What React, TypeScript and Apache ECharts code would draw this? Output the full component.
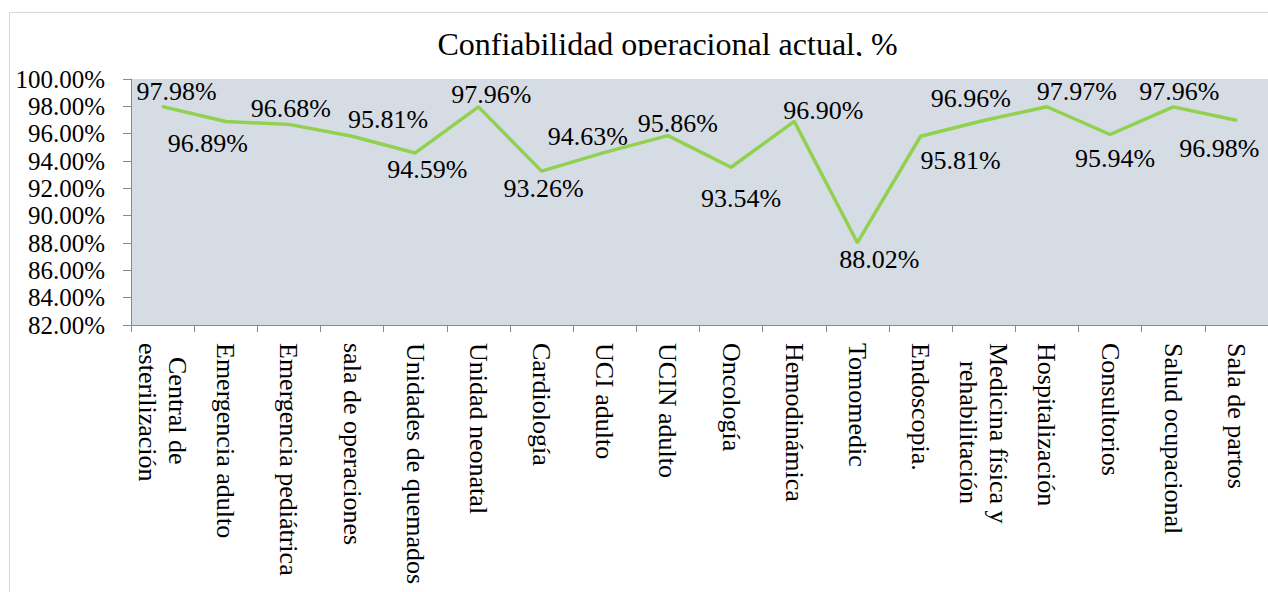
import React, { useEffect, useRef } from "react";
import * as echarts from "echarts";

const TITLE = "Confiabilidad operacional actual, %";

const categories = [
  "Central de\nesterilización",
  "Emergencia adulto",
  "Emergencia pediátrica",
  "sala de operaciones",
  "Unidades de quemados",
  "Unidad neonatal",
  "Cardiología",
  "UCI adulto",
  "UCIN adulto",
  "Oncología",
  "Hemodinámica",
  "Tomomedic",
  "Endoscopia.",
  "Medicina física y\nrehabilitación",
  "Hospitalización",
  "Consultorios",
  "Salud ocupacional",
  "Sala de partos",
];

const values = [
  97.98, 96.89, 96.68, 95.81, 94.59, 97.96, 93.26, 94.63, 95.86, 93.54, 96.9,
  88.02, 95.81, 96.96, 97.97, 95.94, 97.96, 96.98,
];

const yMin = 82;
const yMax = 100;
const yStep = 2;

// label offsets (px) from each point, as placed in the reference
const labelOffsets: [number, number][] = [
  [14, -15], [-18, 22], [2, -16], [36, -17], [12, 17], [13, -12], [2, 17],
  [-17, -16], [10, -12], [10, 31], [29, -11], [22, 17], [40, 24], [-13, -22],
  [30, -15], [5, 24], [6, -15], [-17, 28],
];

const FONT = "'Liberation Serif', 'Times New Roman', serif";
const SYMBOL_SIZE = 2;

export default function App() {
  const ref = useRef<HTMLDivElement>(null);

  useEffect(() => {
    if (!ref.current) return;
    const chart = echarts.init(ref.current, null, { renderer: "svg" });
    const catStyle = { fontSize: 26, fontFamily: FONT, color: "#000", lineHeight: 30 };
    chart.setOption({
      animation: false,
      backgroundColor: "#fff",
      grid: {
        left: 131,
        top: 79,
        width: 1139,
        height: 246,
        show: true,
        backgroundColor: "#d6dce4",
        borderWidth: 0,
        containLabel: false,
      },
      graphic: [
        {
          type: "rect",
          z: -1,
          shape: { x: 9.5, y: 12.5, width: 1400, height: 800 },
          style: { fill: "none", stroke: "#d9d9d9", lineWidth: 1 },
        },
        {
          type: "text",
          z: 10,
          x: 667.5,
          y: 44,
          style: {
            text: TITLE,
            font: `32px ${FONT}`,
            fill: "#000",
            textAlign: "center",
            textVerticalAlign: "middle",
          },
        },
        {
          type: "rect",
          z: 11,
          shape: { x: 400, y: 56, width: 560, height: 22.5 },
          style: { fill: "#fff" },
        },
      ],
      xAxis: {
        type: "category",
        data: categories,
        boundaryGap: true,
        axisLine: { show: true, lineStyle: { color: "#898989", width: 1 } },
        axisTick: { show: true, interval: 0, length: 7, lineStyle: { color: "#898989" } },
        axisLabel: {
          interval: 0,
          rotate: -90,
          margin: 18,
          ...catStyle,
          formatter: (v: string) => {
            if (v.startsWith("Central")) {
              const [a, b] = v.split("\n");
              return `{p1|${a}}\n{n|${b}}`;
            }
            if (v.startsWith("Medicina")) {
              const [a, b] = v.split("\n");
              return `{n|${a}}\n{p2|${b}}`;
            }
            return v;
          },
          rich: {
            n: { ...catStyle },
            p1: { ...catStyle, padding: [0, 0, 0, 14] },
            p2: { ...catStyle, padding: [0, 0, 0, 18] },
          },
        },
        splitLine: { show: false },
      },
      yAxis: {
        type: "value",
        min: yMin,
        max: yMax,
        interval: yStep,
        axisLine: { show: true, lineStyle: { color: "#898989", width: 1 } },
        axisTick: { show: true, length: 8, lineStyle: { color: "#898989" } },
        axisLabel: {
          fontSize: 25,
          fontFamily: FONT,
          color: "#000",
          margin: 26,
          formatter: (v: number) => v.toFixed(2) + "%",
        },
        splitLine: { show: false },
      },
      series: [
        {
          type: "line",
          data: values.map((v, i) => ({
            value: v,
            label: {
              position: [
                labelOffsets[i][0] + SYMBOL_SIZE / 2,
                labelOffsets[i][1] + SYMBOL_SIZE / 2,
              ],
              align: "center",
              verticalAlign: "middle",
            },
          })),
          symbol: "circle",
          symbolSize: SYMBOL_SIZE,
          showSymbol: true,
          itemStyle: { color: "#92D050" },
          lineStyle: { color: "#92D050", width: 3.5 },
          label: {
            show: true,
            align: "center",
            verticalAlign: "middle",
            fontSize: 26,
            fontFamily: FONT,
            color: "#000",
            formatter: (p: any) => Number(p.value).toFixed(2) + "%",
          },
          labelLayout: { hideOverlap: false },
        },
      ],
    });
    return () => chart.dispose();
  }, []);

  return (
    <div
      ref={ref}
      style={{ position: "fixed", left: 0, top: 0, width: 1268, height: 592, background: "#fff" }}
    />
  );
}
